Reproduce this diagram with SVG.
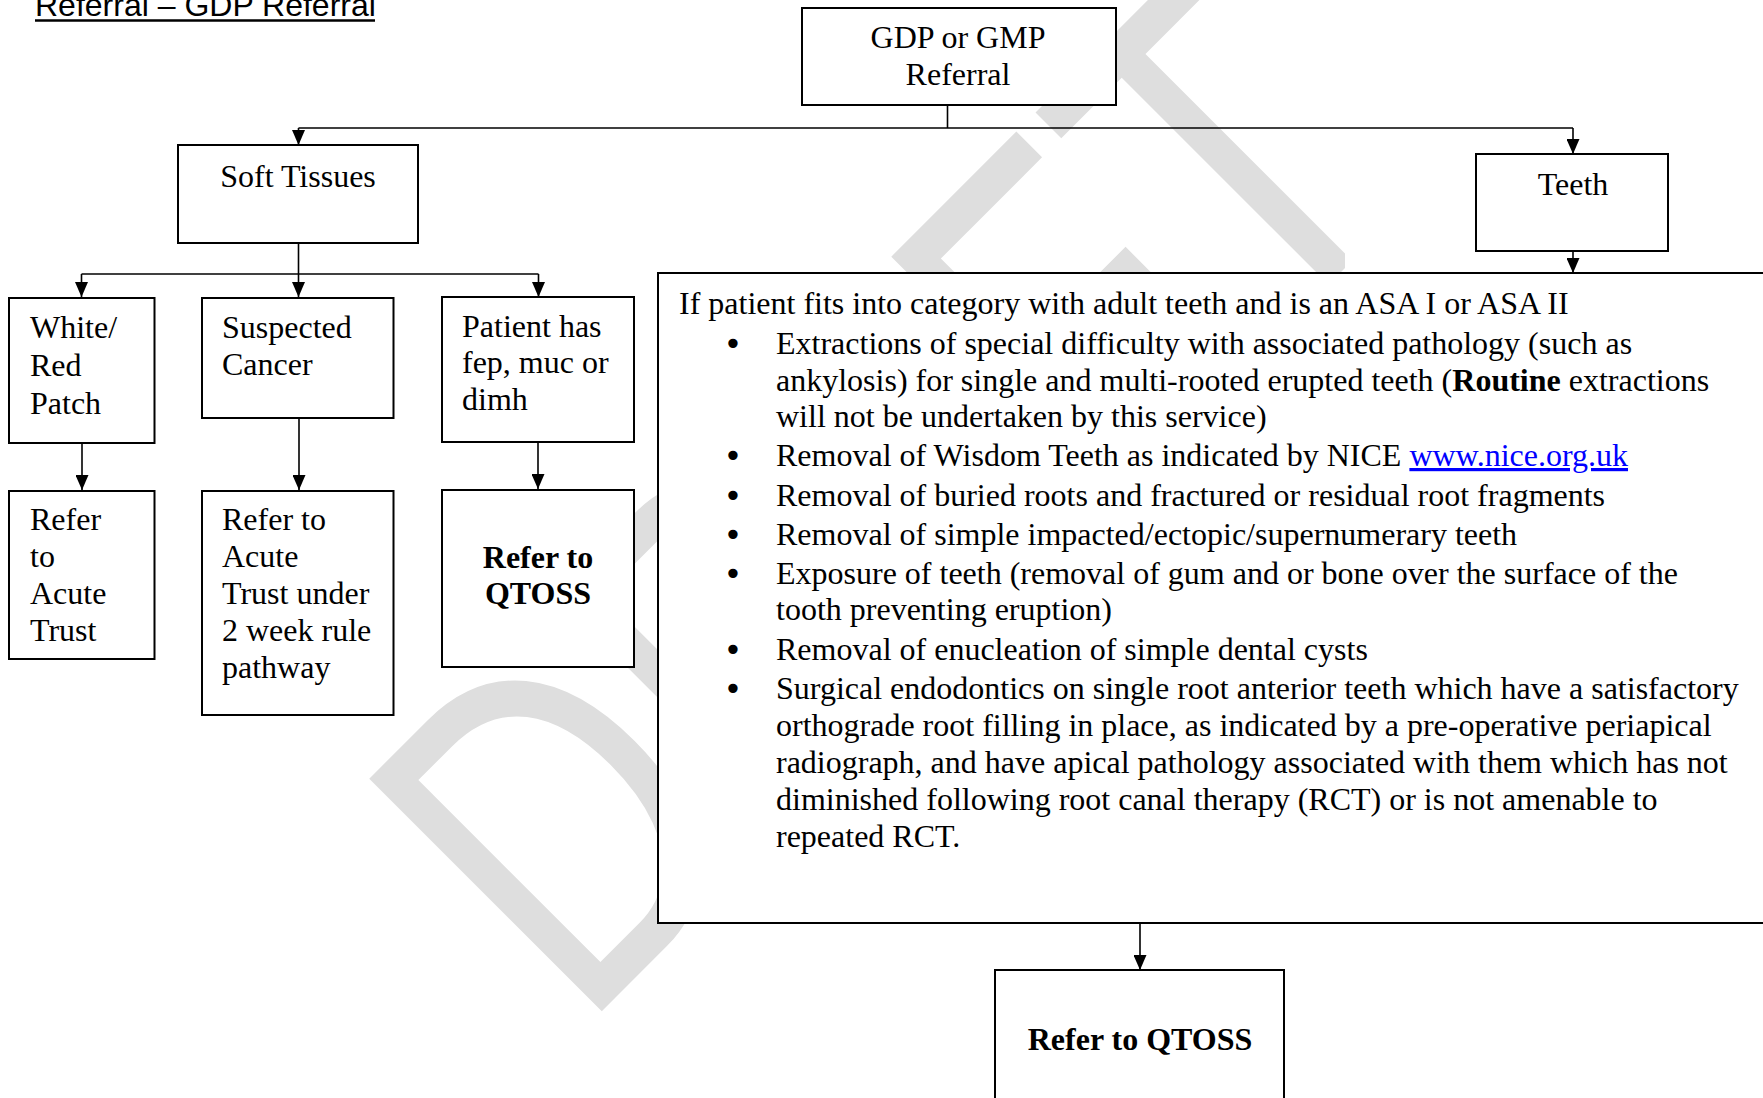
<svg xmlns="http://www.w3.org/2000/svg" width="1763" height="1098" viewBox="0 0 1763 1098">
<defs>
<style>
.box{fill:#fff;stroke:#000;stroke-width:2}
.t{font-family:"Liberation Serif","Times New Roman",serif;font-size:32px;fill:#000}
.b{font-weight:bold}
.body{font-family:"Liberation Serif","Times New Roman",serif;font-size:32px;fill:#000}
.bul{font-family:"DejaVu Sans",sans-serif;font-size:32px;fill:#000;text-anchor:middle}
.conn line{stroke:#000;stroke-width:1.6}
.wm{font-family:"Liberation Sans",Arial,sans-serif;font-size:478px;fill:#dedede}
</style>
<marker id="ah" markerUnits="userSpaceOnUse" markerWidth="15" markerHeight="13" refX="15" refY="6.5" orient="auto">
<path d="M0,0 L15,6.5 L0,13 z" fill="#000"/>
</marker>
<clipPath id="wmclip"><rect x="365" y="0" width="980" height="1098"/></clipPath>
</defs>
<rect width="1763" height="1098" fill="#fff"/>
<g id="watermark" clip-path="url(#wmclip)">
<text class="wm" transform="translate(580.8,1032.2) rotate(-45) scale(0.757,1)">DRA<tspan dx="-34">F</tspan><tspan dx="6">T</tspan></text>
</g>
<g id="title">
<text x="35" y="16" font-family="Liberation Sans, Arial, sans-serif" font-size="32" fill="#000">Referral – GDP Referral</text>
<line x1="35" y1="20.5" x2="375" y2="20.5" stroke="#000" stroke-width="2.5"/>
</g>
<g class="conn">
<line x1="947.5" y1="105" x2="947.5" y2="128"/>
<line x1="298.5" y1="128" x2="1573" y2="128"/>
<line x1="298.5" y1="128" x2="298.5" y2="145" marker-end="url(#ah)"/>
<line x1="1573" y1="128" x2="1573" y2="154" marker-end="url(#ah)"/>
<line x1="298.5" y1="243" x2="298.5" y2="297" marker-end="url(#ah)"/>
<line x1="81.5" y1="274" x2="538.5" y2="274"/>
<line x1="81.5" y1="274" x2="81.5" y2="297" marker-end="url(#ah)"/>
<line x1="538.5" y1="274" x2="538.5" y2="297" marker-end="url(#ah)"/>
<line x1="82" y1="443" x2="82" y2="490" marker-end="url(#ah)"/>
<line x1="299" y1="418" x2="299" y2="490" marker-end="url(#ah)"/>
<line x1="538" y1="442" x2="538" y2="489" marker-end="url(#ah)"/>
<line x1="1573" y1="251" x2="1573" y2="273" marker-end="url(#ah)"/>
<line x1="1140" y1="923" x2="1140" y2="970" marker-end="url(#ah)"/>
</g>
<g id="gdp">
<rect class="box" x="802" y="8" width="314" height="97"/>
<text class="t" x="958" y="48" text-anchor="middle">GDP or GMP</text>
<text class="t" x="958" y="85" text-anchor="middle">Referral</text>
</g>
<g id="soft">
<rect class="box" x="178" y="145" width="240" height="98"/>
<text class="t" x="298" y="187" text-anchor="middle">Soft Tissues</text>
</g>
<g id="teeth">
<rect class="box" x="1476" y="154" width="192" height="97"/>
<text class="t" x="1573" y="195" text-anchor="middle">Teeth</text>
</g>
<g id="white">
<rect class="box" x="9" y="298" width="145.5" height="145"/>
<text class="t" x="30" y="338">White/</text>
<text class="t" x="30" y="376">Red</text>
<text class="t" x="30" y="414">Patch</text>
</g>
<g id="refer1">
<rect class="box" x="9" y="491" width="145.5" height="168"/>
<text class="t" x="30" y="530">Refer</text>
<text class="t" x="30" y="567">to</text>
<text class="t" x="30" y="604">Acute</text>
<text class="t" x="30" y="641">Trust</text>
</g>
<g id="cancer">
<rect class="box" x="202" y="298" width="191.5" height="120"/>
<text class="t" x="222" y="338">Suspected</text>
<text class="t" x="222" y="375">Cancer</text>
</g>
<g id="refer2">
<rect class="box" x="202" y="491" width="191.5" height="224"/>
<text class="t" x="222" y="530">Refer to</text>
<text class="t" x="222" y="567">Acute</text>
<text class="t" x="222" y="604">Trust under</text>
<text class="t" x="222" y="641">2 week rule</text>
<text class="t" x="222" y="678">pathway</text>
</g>
<g id="patient">
<rect class="box" x="442" y="297" width="192" height="145"/>
<text class="t" x="462" y="337">Patient has</text>
<text class="t" x="462" y="373">fep, muc or</text>
<text class="t" x="462" y="410">dimh</text>
</g>
<g id="qtoss1">
<rect class="box" x="442" y="490" width="192" height="177"/>
<text class="t b" x="538" y="568" text-anchor="middle">Refer to</text>
<text class="t b" x="538" y="604" text-anchor="middle">QTOSS</text>
</g>
<g id="criteria">
<rect class="box" x="658" y="273" width="1120" height="650"/>
<text class="body" x="679" y="314" font-size="32.4">If patient fits into category with adult teeth and is an ASA I or ASA II</text>
<g class="body">
<text class="bul" x="733" y="355">•</text>
<text x="776" y="354">Extractions of special difficulty with associated pathology (such as</text>
<text x="776" y="391">ankylosis) for single and multi-rooted erupted teeth (<tspan font-weight="bold">Routine</tspan> extractions</text>
<text x="776" y="427">will not be undertaken by this service)</text>
<text class="bul" x="733" y="467">•</text>
<text x="776" y="466">Removal of Wisdom Teeth as indicated by NICE <tspan fill="#0000ff" text-decoration="underline">www.nice.org.uk</tspan></text>
<text class="bul" x="733" y="507">•</text>
<text x="776" y="506">Removal of buried roots and fractured or residual root fragments</text>
<text class="bul" x="733" y="546">•</text>
<text x="776" y="545">Removal of simple impacted/ectopic/supernumerary teeth</text>
<text class="bul" x="733" y="585">•</text>
<text x="776" y="584">Exposure of teeth (removal of gum and or bone over the surface of the</text>
<text x="776" y="620">tooth preventing eruption)</text>
<text class="bul" x="733" y="661">•</text>
<text x="776" y="660">Removal of enucleation of simple dental cysts</text>
<text class="bul" x="733" y="700">•</text>
<text x="776" y="699">Surgical endodontics on single root anterior teeth which have a satisfactory</text>
<text x="776" y="736">orthograde root filling in place, as indicated by a pre-operative periapical</text>
<text x="776" y="773">radiograph, and have apical pathology associated with them which has not</text>
<text x="776" y="810">diminished following root canal therapy (RCT) or is not amenable to</text>
<text x="776" y="847">repeated RCT.</text>
</g>
</g>
<g id="qtoss2">
<rect class="box" x="995" y="970" width="289" height="140"/>
<text class="t b" x="1140" y="1050" text-anchor="middle">Refer to QTOSS</text>
</g>
</svg>
